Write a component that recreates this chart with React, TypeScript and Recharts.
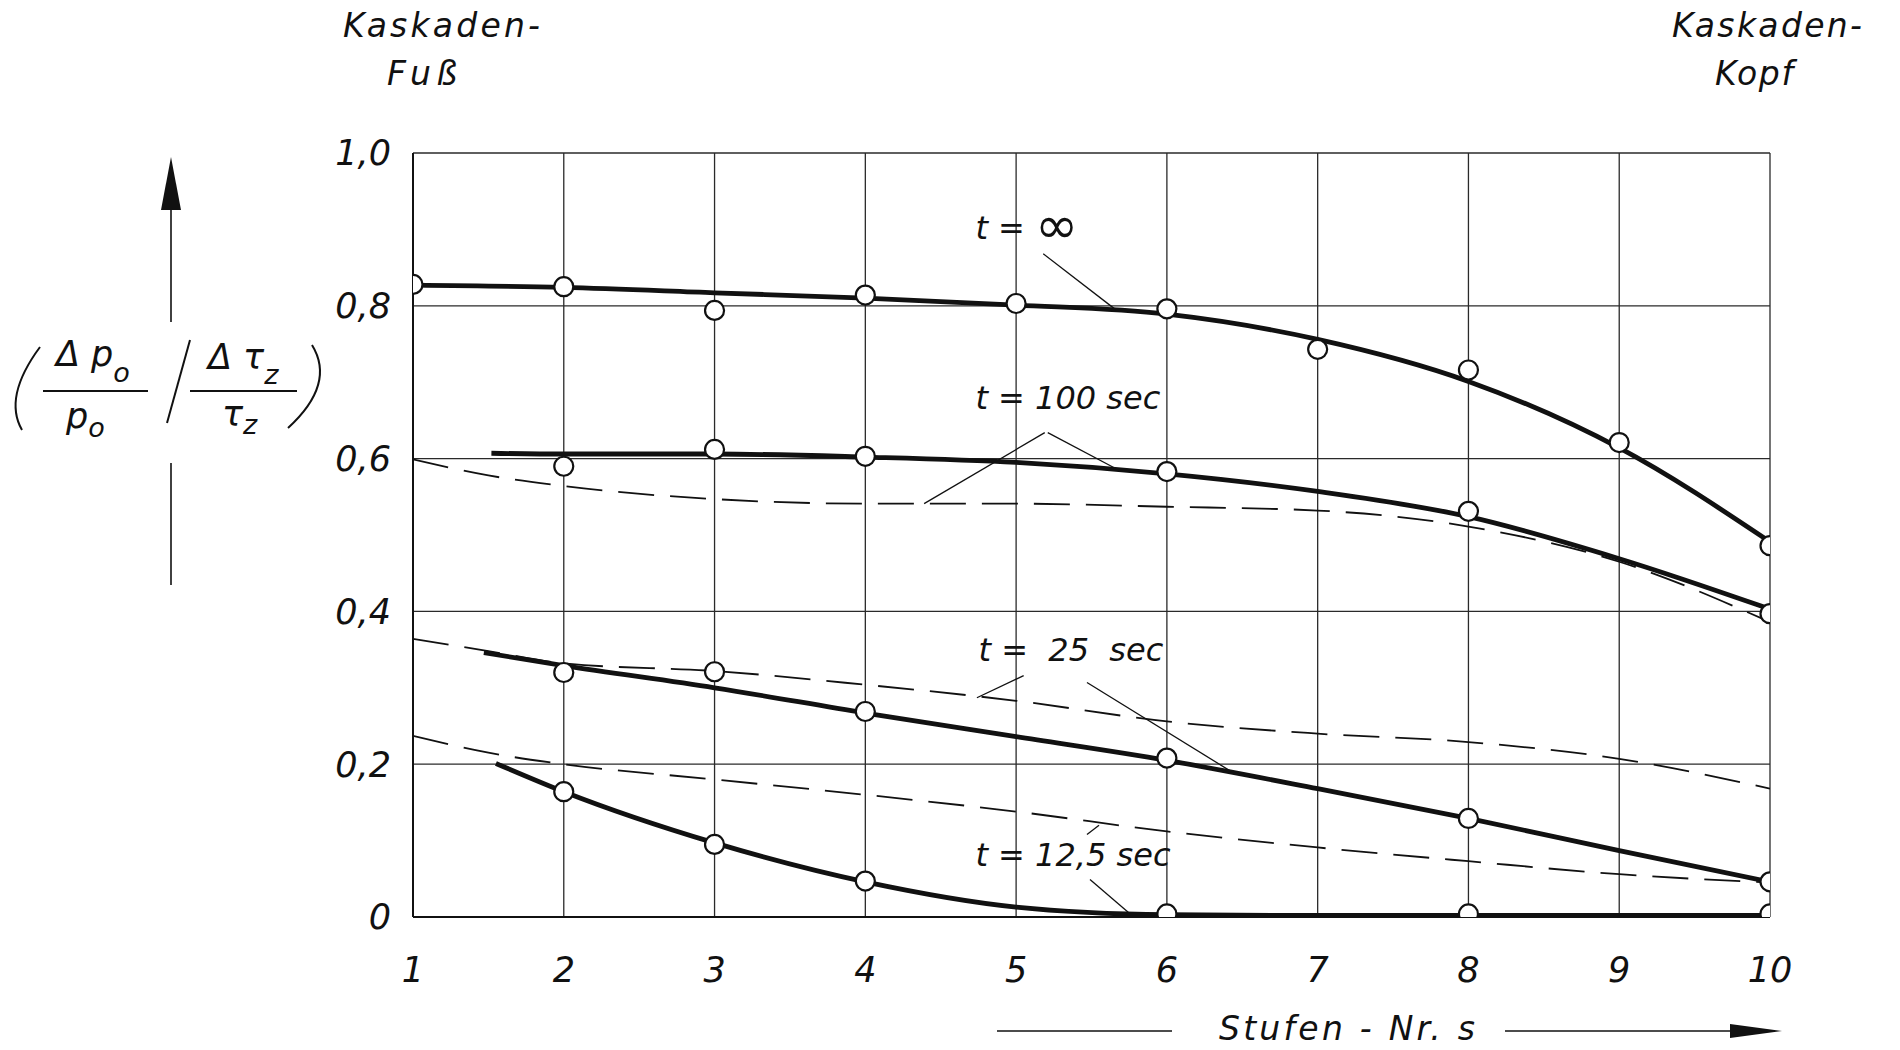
import {
    ComposedChart,
    Line,
    XAxis,
    YAxis,
    CartesianGrid,
    ReferenceLine,
    ReferenceDot,
} from "recharts";

const FONT = '"DejaVu Sans", Verdana, sans-serif';
const INK = "#111";

// stage numbers and y ticks
const stufen = [1, 2, 3, 4, 5, 6, 7, 8, 9, 10];
const yTicks = [0, 0.2, 0.4, 0.6, 0.8, 1.0];

// t = infinity
const infCurve = [
    { s: 1, v: 0.827 }, { s: 2, v: 0.824 }, { s: 3, v: 0.817 }, { s: 4, v: 0.81 },
    { s: 5, v: 0.801 }, { s: 6, v: 0.789 }, { s: 7, v: 0.756 }, { s: 8, v: 0.701 },
    { s: 9, v: 0.614 }, { s: 10, v: 0.491 },
];
const infPoints = [
    { s: 1, v: 0.828 }, { s: 2, v: 0.825 }, { s: 3, v: 0.794 }, { s: 4, v: 0.814 },
    { s: 5, v: 0.803 }, { s: 6, v: 0.796 }, { s: 7, v: 0.743 }, { s: 8, v: 0.716 },
    { s: 9, v: 0.621 }, { s: 10, v: 0.486 },
];

// t = 100 sec
const t100Curve = [
    { s: 1.52, v: 0.607 }, { s: 2, v: 0.606 }, { s: 3, v: 0.606 }, { s: 4, v: 0.602 },
    { s: 5, v: 0.595 }, { s: 6, v: 0.58 }, { s: 7, v: 0.557 }, { s: 8, v: 0.524 },
    { s: 9, v: 0.469 }, { s: 10, v: 0.403 },
];
const t100Dashed = [
    { s: 1, v: 0.599 }, { s: 1.5, v: 0.578 }, { s: 2, v: 0.564 }, { s: 3, v: 0.547 },
    { s: 4, v: 0.541 }, { s: 5, v: 0.541 }, { s: 6, v: 0.537 }, { s: 7, v: 0.532 },
    { s: 8, v: 0.511 }, { s: 9, v: 0.465 }, { s: 10, v: 0.386 },
];
const t100Points = [
    { s: 2, v: 0.59 }, { s: 3, v: 0.612 }, { s: 4, v: 0.603 }, { s: 6, v: 0.583 },
    { s: 8, v: 0.531 }, { s: 10, v: 0.397 },
];

// t = 25 sec
const t25Curve = [
    { s: 1.47, v: 0.346 }, { s: 2, v: 0.329 }, { s: 3, v: 0.3 }, { s: 4, v: 0.267 },
    { s: 5, v: 0.236 }, { s: 6, v: 0.205 }, { s: 7, v: 0.168 }, { s: 8, v: 0.129 },
    { s: 9, v: 0.087 }, { s: 10, v: 0.046 },
];
const t25Dashed = [
    { s: 1, v: 0.364 }, { s: 1.5, v: 0.348 }, { s: 2, v: 0.332 }, { s: 3, v: 0.322 },
    { s: 4, v: 0.304 }, { s: 5, v: 0.283 }, { s: 6, v: 0.256 }, { s: 7, v: 0.24 },
    { s: 8, v: 0.229 }, { s: 9, v: 0.207 }, { s: 10, v: 0.168 },
];
const t25Points = [
    { s: 2, v: 0.32 }, { s: 3, v: 0.321 }, { s: 4, v: 0.269 }, { s: 6, v: 0.208 },
    { s: 8, v: 0.129 }, { s: 10, v: 0.046 },
];

// t = 12,5 sec
const t12Curve = [
    { s: 1.55, v: 0.201 }, { s: 2, v: 0.164 }, { s: 3, v: 0.097 }, { s: 4, v: 0.046 },
    { s: 5, v: 0.013 }, { s: 6, v: 0.003 }, { s: 7, v: 0.002 }, { s: 8, v: 0.002 },
    { s: 9, v: 0.002 }, { s: 10, v: 0.002 },
];
const t12Dashed = [
    { s: 1, v: 0.237 }, { s: 1.5, v: 0.215 }, { s: 2, v: 0.2 }, { s: 3, v: 0.18 },
    { s: 4, v: 0.16 }, { s: 5, v: 0.138 }, { s: 6, v: 0.112 }, { s: 7, v: 0.091 },
    { s: 8, v: 0.073 }, { s: 9, v: 0.056 }, { s: 10, v: 0.045 },
];
const t12Points = [
    { s: 2, v: 0.164 }, { s: 3, v: 0.095 }, { s: 4, v: 0.047 }, { s: 6, v: 0.004 },
    { s: 8, v: 0.004 }, { s: 10, v: 0.004 },
];

// curve labels (start of text, vertical centre); "big" is drawn larger
const curveLabels = [
    { s: 4.73, v: 0.902, text: "t = ", big: "∞" },
    { s: 4.73, v: 0.68, text: "t = 100 sec", big: "" },
    { s: 4.75, v: 0.35, text: "t =  25  sec", big: "" },
    { s: 4.73, v: 0.082, text: "t = 12,5 sec", big: "" },
];

// leader lines from labels to curves
const leaders = [
    [{ x: 5.18, y: 0.868 }, { x: 5.66, y: 0.795 }],
    [{ x: 5.21, y: 0.634 }, { x: 5.66, y: 0.587 }],
    [{ x: 5.19, y: 0.634 }, { x: 4.39, y: 0.541 }],
    [{ x: 5.05, y: 0.316 }, { x: 4.74, y: 0.287 }],
    [{ x: 5.47, y: 0.307 }, { x: 6.43, y: 0.19 }],
    [{ x: 5.47, y: 0.108 }, { x: 5.55, y: 0.12 }],
    [{ x: 5.49, y: 0.049 }, { x: 5.78, y: 0.0 }],
];

const fmt = (v: number) => (v === 0 ? "0" : v.toFixed(1).replace(".", ","));

const tickStyle = { fontSize: 35, fill: INK, fontFamily: FONT, fontStyle: "italic" as const };
const dotStyle = { r: 9.5, fill: "#fff", stroke: INK, strokeWidth: 2.2 };

function Decorations() {
    const t = { fontFamily: FONT, fontStyle: "italic" as const, fill: INK };
    return (
        <svg
            width={1900}
            height={1050}
            style={{ position: "absolute", left: 0, top: 0, pointerEvents: "none" }}
        >
            {/* head labels */}
            <text {...t} x={343} y={37} fontSize={33} textLength={197}>Kaskaden-</text>
            <text {...t} x={387} y={85} fontSize={33} textLength={70}>Fuß</text>
            <text {...t} x={1672} y={37} fontSize={33} textLength={190}>Kaskaden-</text>
            <text {...t} x={1715} y={85} fontSize={33} textLength={78}>Kopf</text>

            {/* y axis quantity */}
            <line x1={171} y1={208} x2={171} y2={322} stroke={INK} strokeWidth={1.6} />
            <polygon points="171,157 161,210 181,210" fill={INK} />
            <line x1={171} y1={463} x2={171} y2={585} stroke={INK} strokeWidth={1.6} />
            <path d="M 40 347 Q 3 397 22 430" fill="none" stroke={INK} strokeWidth={2} />
            <path d="M 312 345 Q 336 384 288 428" fill="none" stroke={INK} strokeWidth={2} />
            <text {...t} x={56} y={366} fontSize={35}>
                Δ p<tspan fontSize={27} dy={16}>o</tspan>
            </text>
            <line x1={43} y1={391} x2={148} y2={391} stroke={INK} strokeWidth={2} />
            <text {...t} x={66} y={428} fontSize={35}>
                p<tspan fontSize={27} dy={9}>o</tspan>
            </text>
            <line x1={167} y1={423} x2={190} y2={340} stroke={INK} strokeWidth={2} />
            <text {...t} x={208} y={369} fontSize={35}>
                Δ τ<tspan fontSize={27} dy={15}>z</tspan>
            </text>
            <line x1={190} y1={391} x2={297} y2={391} stroke={INK} strokeWidth={2} />
            <text {...t} x={222} y={426} fontSize={35}>
                τ<tspan fontSize={27} dy={8}>z</tspan>
            </text>

            {/* x axis quantity */}
            <line x1={997} y1={1031} x2={1172} y2={1031} stroke={INK} strokeWidth={1.6} />
            <text {...t} x={1219} y={1040} fontSize={33} textLength={256}>Stufen - Nr. s</text>
            <line x1={1505} y1={1031} x2={1735} y2={1031} stroke={INK} strokeWidth={1.6} />
            <polygon points="1730,1024 1782,1031 1730,1038" fill={INK} />
        </svg>
    );
}

export default function App() {
    return (
        <div style={{ position: "absolute", left: 0, top: 0, width: 1900, height: 1050, background: "#fff" }}>
            <ComposedChart
                width={1900}
                height={1050}
                margin={{ top: 153, right: 130, bottom: 53, left: 313 }}
            >
                <CartesianGrid stroke="#2a2a2a" strokeWidth={1.3} />
                <XAxis
                    type="number"
                    dataKey="s"
                    domain={[1, 10]}
                    ticks={stufen}
                    allowDataOverflow
                    height={80}
                    tickSize={0}
                    tickMargin={40}
                    axisLine={{ stroke: INK, strokeWidth: 2 }}
                    tick={tickStyle}
                />
                <YAxis
                    type="number"
                    dataKey="v"
                    domain={[0, 1]}
                    ticks={yTicks}
                    allowDataOverflow
                    width={100}
                    tickSize={0}
                    tickMargin={22}
                    tickFormatter={fmt}
                    axisLine={{ stroke: INK, strokeWidth: 2 }}
                    tick={tickStyle}
                />

                {/* dashed curves */}
                {[t100Dashed, t25Dashed, t12Dashed].map((d, i) => (
                    <Line
                        key={"d" + i}
                        data={d}
                        dataKey="v"
                        type="monotone"
                        stroke={INK}
                        strokeWidth={1.8}
                        strokeDasharray="36 16"
                        dot={false}
                        activeDot={false}
                        isAnimationActive={false}
                    />
                ))}

                {/* solid, thick curves */}
                {[infCurve, t100Curve, t25Curve, t12Curve].map((d, i) => (
                    <Line
                        key={"c" + i}
                        data={d}
                        dataKey="v"
                        type="monotone"
                        stroke={INK}
                        strokeWidth={4.8}
                        dot={false}
                        activeDot={false}
                        isAnimationActive={false}
                    />
                ))}

                {leaders.map((seg, i) => (
                    <ReferenceLine key={"l" + i} segment={seg} stroke={INK} strokeWidth={1.3} />
                ))}

                {/* measured points */}
                {[infPoints, t100Points, t25Points, t12Points].map((d, i) => (
                    <Line
                        key={"p" + i}
                        data={d}
                        dataKey="v"
                        stroke="none"
                        dot={dotStyle}
                        activeDot={false}
                        isAnimationActive={false}
                    />
                ))}

                {curveLabels.map((l) => (
                    <ReferenceDot
                        key={l.text + l.big}
                        x={l.s}
                        y={l.v}
                        r={0}
                        shape={(p: any) => (
                            <text
                                x={p.cx}
                                y={p.cy}
                                dy="0.36em"
                                fontSize={32}
                                fontFamily={FONT}
                                fontStyle="italic"
                                fill={INK}
                                style={{ whiteSpace: "pre" }}
                            >
                                {l.text}
                                {l.big ? <tspan fontSize={52} fontStyle="normal" dy={4}>{l.big}</tspan> : null}
                            </text>
                        )}
                    />
                ))}
            </ComposedChart>
            <Decorations />
        </div>
    );
}
